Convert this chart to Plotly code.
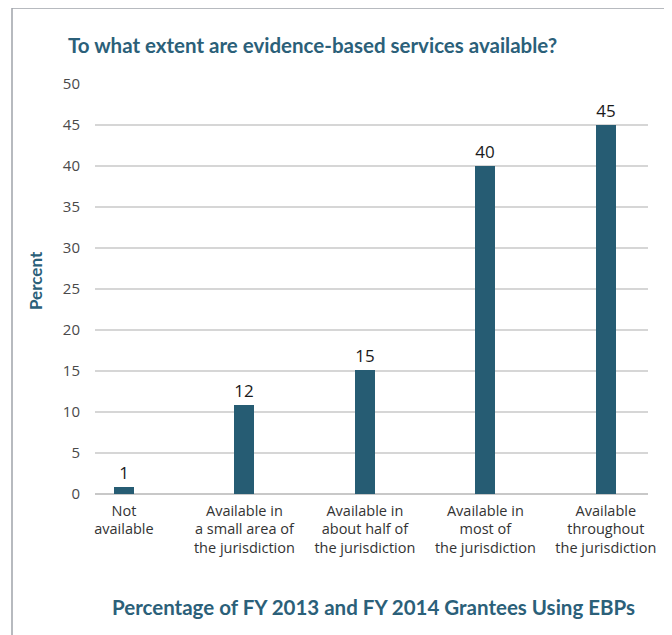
import plotly.graph_objects as go

categories = [
    "Not<br>available",
    "Available in<br>a small area of<br>the jurisdiction",
    "Available in<br>about half of<br>the jurisdiction",
    "Available in<br>most of<br>the jurisdiction",
    "Available<br>throughout<br>the jurisdiction",
]
values = [0.85, 10.9, 15.1, 40, 45]
data_labels = ["1", "12", "15", "40", "45"]
y_ticks = [0, 5, 10, 15, 20, 25, 30, 35, 40, 45, 50]

teal = "#265c73"
title_col = "#2b6079"

OFF = 8  # page body margin
W, H = 672 - OFF, 635 - OFF
L, R, T, B = 95 - OFF, 648 - OFF, 84 - OFF, 494 - OFF
pw, ph = R - L, B - T

def px(x):
    return (x - OFF - L) / pw

def py(y):
    return (B - (y - OFF)) / ph

fig = go.Figure()
fig.add_trace(go.Bar(
    x=categories, y=values, width=0.166,
    marker=dict(color=teal, line=dict(width=0)),
    text=data_labels, textposition="outside", cliponaxis=False,
    textfont=dict(family="Open Sans", size=17, color="#1a1a1a"),
))

fig.update_layout(
    width=W, height=H,
    margin=dict(l=L, r=W - R, t=T, b=H - B, autoexpand=False),
    paper_bgcolor="white", plot_bgcolor="white",
    showlegend=False,
    font=dict(family="Open Sans", color="#444"),
    bargap=0,
)
fig.update_xaxes(
    type="category", range=[-0.24, 4.35],
    showgrid=False, showline=False, zeroline=False,
    tickfont=dict(family="Open Sans", size=14.5, color="#333"),
    ticks="", ticklabelstandoff=6,
)
fig.update_yaxes(
    range=[0, 50], tickvals=y_ticks,
    showgrid=True, gridcolor="#d6d6d6", gridwidth=1.5,
    zeroline=True, zerolinecolor="#c8c8c8", zerolinewidth=1.5,
    showline=False, ticks="",
    tickfont=dict(family="Open Sans", size=15, color="#4a4a4a"),
    ticklabelstandoff=14,
)

fig.add_annotation(
    text="<b>To what extent are evidence-based services available?</b>",
    xref="paper", yref="paper", x=px(66), y=py(45),
    xanchor="left", yanchor="middle", showarrow=False,
    font=dict(family="Lato", size=20.5, color=title_col),
)
fig.add_annotation(
    text="<b>Percent</b>",
    xref="paper", yref="paper", x=px(35), y=py(281), textangle=-90,
    xanchor="center", yanchor="middle", showarrow=False,
    font=dict(family="Lato", size=17, color=title_col),
)
fig.add_annotation(
    text="<b>Percentage of FY 2013 and FY 2014 Grantees Using EBPs</b>",
    xref="paper", yref="paper", x=px(373), y=py(607),
    xanchor="center", yanchor="middle", showarrow=False,
    font=dict(family="Lato", size=20.5, color=title_col),
)
fig.add_shape(
    type="rect", xref="paper", yref="paper",
    x0=px(12), x1=px(668), y0=py(660), y1=py(8),
    line=dict(color="#a0a4ab", width=1.5), fillcolor="rgba(0,0,0,0)",
    layer="below",
)

fig.write_html("out.html")
